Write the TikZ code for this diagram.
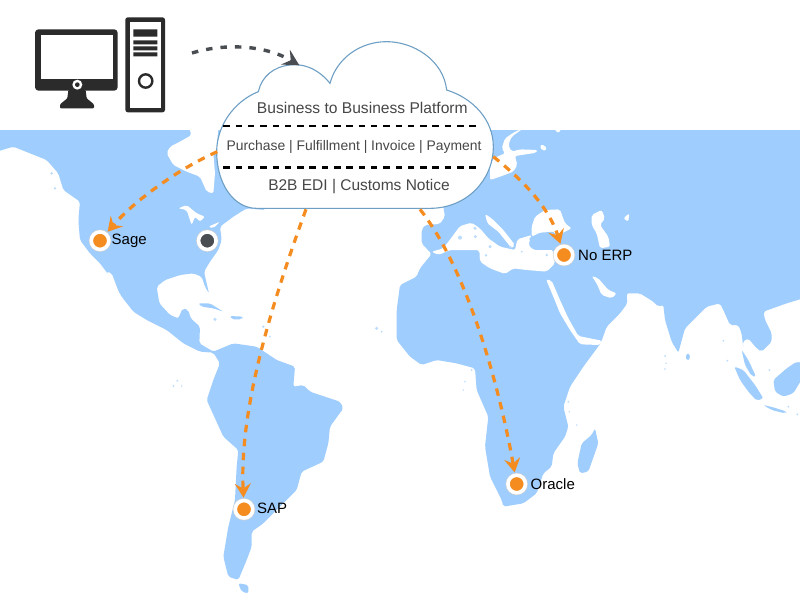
\documentclass[tikz,border=0pt]{standalone}
\usepackage{fontspec}
\setmainfont{Liberation Sans}
\usetikzlibrary{arrows.meta}
\definecolor{landblue}{HTML}{9FCDFD}
\definecolor{hubdark}{HTML}{2B2B2B}
\definecolor{routeorange}{HTML}{F48C1F}
\definecolor{dotdark}{HTML}{4A4D52}
\definecolor{cloudline}{HTML}{6E9FC4}
\tikzset{
  landpart/.style={fill=landblue,rounded corners=2pt},
  seapart/.style={fill=white,rounded corners=2pt},
  zoomed/.style={x=0.33333pt,y=-0.33333pt},
  route/.style={draw=routeorange,line width=3.2pt,dash pattern=on 7.5pt off 6.5pt,
     -{Stealth[length=14pt,width=16pt,inset=5pt,fill=routeorange]}},
  uplink/.style={draw=dotdark,line width=3.4pt,dash pattern=on 6.5pt off 8pt,
     -{Stealth[length=16pt,width=17pt,inset=6pt,fill=dotdark]}},
  divider/.style={draw=black,line width=2.9pt,dash pattern=on 6.5pt off 5.8pt},
  site/.style={circle,fill=routeorange,draw=white,line width=3.6pt,minimum size=17.5pt,inner sep=0pt,outer sep=3pt,
     preaction={draw=black!18,line width=4.8pt}},
  sitedark/.style={site,fill=dotdark},
  sitelabel/.style={anchor=west,inner sep=0pt,text=black,font=\fontsize{15}{18}\selectfont},
  cloudtext/.style={inner sep=0pt,text=black!72},
}
\begin{document}
\begin{tikzpicture}[x=1pt,y=-1pt]
\useasboundingbox (0,0) rectangle (800,592);
\fill[white] (0,0) rectangle (800,592);
\begin{scope}
\clip (0,130.5) rectangle (800,592);
% Americas
\begin{scope}[shift={(0,130)},zoomed]
\fill[landpart] (-10,0) -- (760,0) -- (795,240) -- (740,235) -- (700,260) -- (660,290) -- (665,330) -- (655,360) -- (630,395) -- (612,425) -- (620,460) -- (627,490) -- (615,470) -- (605,440) -- (580,430) -- (540,435) -- (495,450) -- (470,470) -- (478,520) -- (510,555) -- (535,565) -- (548,535) -- (565,540) -- (572,565) -- (600,590) -- (598,640) -- (640,665) -- (700,640) -- (770,650) -- (830,690) -- (885,710) -- (880,770) -- (910,765) -- (930,785) -- (1020,815) -- (1030,835) -- (990,890) -- (985,940) -- (970,995) -- (905,1025) -- (890,1080) -- (840,1130) -- (790,1180) -- (755,1205) -- (755,1250) -- (740,1290) -- (715,1350) -- (685,1340) -- (670,1280) -- (685,1190) -- (705,1110) -- (710,1010) -- (715,960) -- (670,920) -- (620,810) -- (640,750) -- (660,700) -- (640,668) -- (600,665) -- (550,640) -- (500,600) -- (440,570) -- (400,545) -- (365,500) -- (330,440) -- (300,400) -- (270,370) -- (240,330) -- (235,270) -- (240,215) -- (190,180) -- (175,130) -- (140,90) -- (90,70) -- (40,50) -- (-10,65) -- cycle;
\fill[seapart] (500,70) -- (510,50) -- (540,35) -- (575,15) -- (565,-10) -- (655,-10) -- (650,60) -- (640,70) -- (645,130) -- (640,190) -- (620,185) -- (600,140) -- (560,125) -- (520,105) -- cycle;
\fill[seapart] (535,235) -- (560,225) -- (590,250) -- (615,260) -- (600,275) -- (585,260) -- (575,285) -- (560,240) -- cycle;
\fill[seapart] (625,290) -- (660,275) -- (640,295) -- cycle;
\fill[seapart] (320,425) -- (335,430) -- (365,510) -- (345,490) -- cycle;
\fill[landpart] (595,520) -- (630,520) -- (670,545) -- (640,535) -- (605,530) -- cycle;
\fill[landpart] (690,558) -- (730,560) -- (725,568) -- (695,568) -- cycle;
\fill[landblue!70] (645,568) circle[radius=5] (532,752) circle[radius=3] (520,768) circle[radius=3] (545,768) circle[radius=2.5] (1130,595) circle[radius=5] (1145,605) circle[radius=3] (155,130) circle[radius=4] (165,175) circle[radius=4] (790,590) circle[radius=4] (810,620) circle[radius=3];
\fill[landpart] (715,1360) -- (745,1365) -- (745,1390) -- (725,1385) -- cycle;
\end{scope}
% Eurasia and Africa
\begin{scope}[shift={(400,130)},zoomed]
\fill[landpart] (120,-5) -- (1210,-5) -- (1210,505) -- (1160,520) -- (1090,545) -- (1095,570) -- (1115,610) -- (1115,635) -- (1085,665) -- (1070,655) -- (1045,625) -- (1028,635) -- (1030,655) -- (1025,610) -- (1015,585) -- (990,585) -- (970,540) -- (960,520) -- (920,530) -- (895,555) -- (855,595) -- (835,668) -- (815,635) -- (795,570) -- (790,525) -- (775,530) -- (760,515) -- (720,490) -- (680,490) -- (682,520) -- (660,550) -- (620,590) -- (605,632) -- (598,645) -- (550,710) -- (510,770) -- (490,830) -- (505,890) -- (495,920) -- (460,970) -- (455,1010) -- (430,1030) -- (410,1090) -- (370,1120) -- (310,1130) -- (305,1110) -- (270,1040) -- (255,950) -- (265,860) -- (230,780) -- (225,715) -- (170,700) -- (110,690) -- (65,705) -- (30,680) -- (-10,630) -- (-10,540) -- (0,465) -- (50,440) -- (60,415) -- (95,372) -- (65,340) -- (65,300) -- (75,285) -- (120,282) -- (135,260) -- (130,230) -- cycle;
\fill[seapart] (438,448) -- (455,452) -- (480,510) -- (505,565) -- (535,618) -- (605,632) -- (600,645) -- (540,643) -- (510,600) -- (480,550) -- (460,500) -- cycle;
\fill[seapart] (575,438) -- (595,445) -- (625,480) -- (650,490) -- (635,505) -- (605,495) -- (590,460) -- cycle;
\fill[seapart] (670,265) -- (688,250) -- (685,275) -- cycle;
\end{scope}
% Mediterranean
\begin{scope}[shift={(400,200)},zoomed]
\fill[seapart] (95,155) -- (130,145) -- (155,112) -- (180,78) -- (215,68) -- (240,85) -- (265,115) -- (300,140) -- (345,150) -- (352,118) -- (395,105) -- (385,135) -- (400,150) -- (460,150) -- (465,190) -- (440,215) -- (380,210) -- (340,205) -- (315,222) -- (270,205) -- (240,185) -- (238,150) -- (150,150) -- (115,165) -- cycle;
\fill[seapart] (255,42) -- (275,55) -- (310,90) -- (345,135) -- (335,145) -- (295,95) -- (262,70) -- cycle;
\fill[landblue!70] (180,113) circle[radius=6] (225,85) circle[radius=5] (226,110) circle[radius=5] (270,140) circle[radius=5] (258,166) circle[radius=4] (330,140) circle[radius=4] (365,155) circle[radius=3] (440,165) circle[radius=4];
\end{scope}
% Black Sea, Baltic, Caspian
\begin{scope}[shift={(490,130)},zoomed]
\fill[seapart] (125,320) -- (125,290) -- (135,260) -- (165,240) -- (210,238) -- (225,280) -- (245,295) -- (215,310) -- (200,325) -- cycle;
\fill[landpart] (116,325) -- (150,308) -- (195,305) -- (200,345) -- (170,352) -- (130,350) -- cycle;
\fill[seapart] (100,-5) -- (75,5) -- (45,25) -- (35,55) -- (45,70) -- (10,85) -- (0,110) -- (0,150) -- (30,140) -- (70,125) -- (82,105) -- (75,78) -- (140,68) -- (142,60) -- (90,58) -- (65,65) -- (55,45) -- (65,20) -- cycle;
\fill[seapart] (150,45) -- (165,45) -- (170,60) -- (155,62) -- cycle;
\fill[seapart] (190,-5) -- (215,-5) -- (205,10) -- cycle;
\fill[seapart] (305,255) -- (335,240) -- (345,265) -- (330,285) -- (355,320) -- (360,350) -- (330,355) -- (320,310) -- (305,285) -- cycle;
\end{scope}
% Madagascar
\begin{scope}[shift={(400,330)},zoomed]
\fill[landpart] (585,295) -- (595,340) -- (565,425) -- (540,430) -- (532,400) -- (545,340) -- (575,315) -- cycle;
\fill[landblue!70] (215,120) circle[radius=3] (195,155) circle[radius=2.5] (190,180) circle[radius=2.5] (505,215) circle[radius=3] (508,245) circle[radius=2.5] (530,285) circle[radius=2.5];
\end{scope}
% South-East Asia
\begin{scope}[shift={(640,270)},zoomed]
\fill[landpart] (135,260) -- (145,248) -- (152,265) -- (143,272) -- cycle;
\fill[landpart] (305,240) -- (325,270) -- (348,320) -- (335,318) -- (315,285) -- cycle;
\fill[landpart] (283,290) -- (310,300) -- (345,345) -- (370,385) -- (350,392) -- (325,365) -- (300,330) -- cycle;
\fill[landpart] (400,330) -- (440,295) -- (470,275) -- (490,280) -- (490,320) -- (460,370) -- (430,380) -- (405,365) -- cycle;
\fill[landpart] (370,405) -- (400,412) -- (440,425) -- (435,430) -- (395,420) -- cycle;
\fill[landblue!70] (75,258) circle[radius=3] (78,280) circle[radius=2.5] (75,297) circle[radius=2.5] (250,212) circle[radius=3] (262,272) circle[radius=3] (388,300) circle[radius=3] (445,410) circle[radius=3] (472,433) circle[radius=3];
\end{scope}
\end{scope}
% Cloud
\begin{scope}[shift={(200,30)},zoomed]
\filldraw[draw=cloudline,fill=white,line width=1.1pt]
 (170,535) -- (690,535) .. controls (800,535) and (880,450) .. (880,350)
 .. controls (880,270) and (820,205) .. (740,180)
 .. controls (730,90) and (640,35) .. (560,35)
 .. controls (480,35) and (410,85) .. (390,160)
 .. controls (350,110) and (300,100) .. (270,105)
 .. controls (220,110) and (185,140) .. (175,185)
 .. controls (100,215) and (50,290) .. (50,365)
 .. controls (50,460) and (100,535) .. (170,535) -- cycle;
\coordinate (cloudW) at (52,365);
\coordinate (cloudSW) at (318,538);
\coordinate (cloudSE) at (660,538);
\coordinate (cloudE) at (880,380);
\coordinate (cloudT) at (298,106);
\coordinate (divAL) at (70,288);
\coordinate (divAR) at (840,288);
\coordinate (divBL) at (70,412);
\coordinate (divBR) at (840,412);
\end{scope}
\draw[divider] (divAL) -- (divAR);
\draw[divider] (divBL) -- (divBR);
\node[cloudtext,font=\fontsize{15.6}{18}\selectfont] (t1) at (362.3,107.5) {Business to Business Platform};
\node[cloudtext,font=\fontsize{13.9}{18}\selectfont] (t2) at (354,147) {Purchase | Fulfillment | Invoice | Payment};
\node[cloudtext,font=\fontsize{15.5}{18}\selectfont] (t3) at (359,187) {B2B EDI | Customs Notice};
% Computer
\begin{scope}[shift={(20,10)},zoomed]
\fill[hubdark,rounded corners=3.5pt] (45,58) rectangle (293,242);
\fill[white] (63,74) rectangle (278,207);
\fill[hubdark,rounded corners=1pt] (145,240) -- (197,240) -- (200,265) -- (222,283) -- (222,295) -- (120,295) -- (120,283) -- (142,265) -- cycle;
\fill[white] (172,224) circle[radius=15];
\fill[hubdark] (172,224) circle[radius=7];
\fill[hubdark,rounded corners=2.5pt] (316,22) rectangle (435,307);
\fill[white] (329,35) rectangle (422,293);
\fill[hubdark] (340,58) rectangle (412,80) (340,91) rectangle (412,103) (340,109) rectangle (412,121) (340,127) rectangle (412,139);
\draw[hubdark,line width=2.4pt] (377,213) circle[radius=20];
\end{scope}
\coordinate (pcOut) at (192,53);
% Sites
\node[site] (sage) at (100,240.7) {};
\node[sitedark] (hq) at (207.3,240.7) {};
\node[site] (noerp) at (564,255) {};
\node[site] (sap) at (244,509.3) {};
\node[site] (oracle) at (516.7,484) {};
\node[sitelabel] (sagelabel) at (111.5,241) {Sage};
\node[sitelabel] (noerplabel) at (578,255) {No ERP};
\node[sitelabel] (saplabel) at (257,508) {SAP};
\node[sitelabel] (oraclelabel) at (530.5,484) {Oracle};
% Connectors
\draw[uplink] (pcOut) .. controls (225,43) and (265,45) .. (cloudT);
\draw[route] (cloudW) .. controls (180,168) and (135,200) .. (sage);
\draw[route] (cloudSW) .. controls (262,330) and (240,420) .. (sap);
\draw[route] (cloudSE) .. controls (468,270) and (500,390) .. (oracle);
\draw[route] (cloudE) .. controls (520,178) and (548,205) .. (noerp);
\end{tikzpicture}
\end{document}
